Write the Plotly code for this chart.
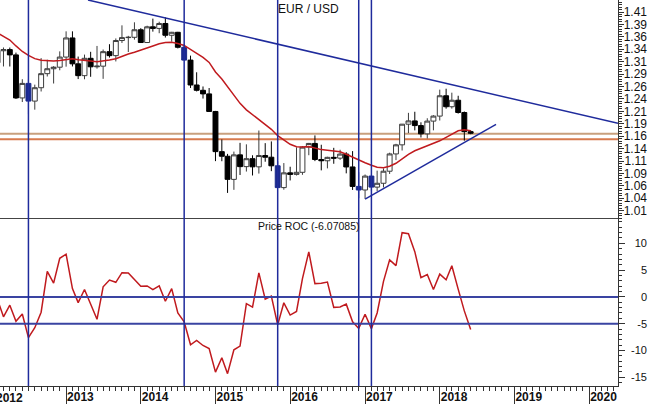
import plotly.graph_objects as go
import pandas as pd

# ---------------- data (monthly EUR/USD, Feb 2012 .. Jun 2018) ----------------
first_month = "2012-02-01"
opens = [1.3079, 1.3320, 1.3343, 1.3237, 1.2370, 1.2663, 1.2307, 1.2576, 1.2859, 1.2958, 1.2989,
         1.3193, 1.3578, 1.3057, 1.2819, 1.3168, 1.2997, 1.3010, 1.3302, 1.3222, 1.3526, 1.3585, 1.3591,
         1.3743, 1.3486, 1.3802, 1.3770, 1.3869, 1.3632, 1.3692, 1.3390, 1.3132, 1.2631, 1.2524, 1.2452,
         1.2098, 1.1289, 1.1196, 1.0731, 1.1224, 1.0987, 1.1147, 1.0983, 1.1211, 1.1177, 1.1004, 1.0565,
         1.0862, 1.0831, 1.0873, 1.1380, 1.1454, 1.1131, 1.1105, 1.1174, 1.1158, 1.1240, 1.0981, 1.0589,
         1.0517, 1.0797, 1.0575, 1.0652, 1.0895, 1.1243, 1.1426, 1.1842, 1.1908, 1.1814, 1.1647, 1.1904,
         1.2005, 1.2414, 1.2193, 1.2324, 1.2077, 1.1692]
highs = [1.3487, 1.3386, 1.3385, 1.3283, 1.2747, 1.2747, 1.2638, 1.3172, 1.3140, 1.3010, 1.3308,
         1.3711, 1.3711, 1.3203, 1.3243, 1.3299, 1.3417, 1.3345, 1.3452, 1.3568, 1.3832, 1.3620, 1.3893,
         1.3775, 1.3824, 1.3967, 1.3905, 1.3993, 1.3700, 1.3700, 1.3445, 1.3222, 1.2887, 1.2601, 1.2570,
         1.2109, 1.1534, 1.1244, 1.1290, 1.1466, 1.1436, 1.1216, 1.1714, 1.1460, 1.1495, 1.1095, 1.1059,
         1.0985, 1.1376, 1.1400, 1.1464, 1.1616, 1.1428, 1.1186, 1.1366, 1.1327, 1.1278, 1.1300, 1.0874,
         1.0829, 1.0829, 1.0906, 1.0951, 1.1268, 1.1446, 1.1846, 1.2070, 1.2092, 1.1880, 1.1961, 1.2023,
         1.2537, 1.2556, 1.2476, 1.2414, 1.2097, 1.1720]
lows = [1.3034, 1.3004, 1.3003, 1.2350, 1.2288, 1.2042, 1.2134, 1.2500, 1.2802, 1.2661, 1.2927,
        1.3000, 1.3004, 1.2750, 1.2746, 1.2796, 1.2960, 1.2755, 1.3183, 1.3105, 1.3477, 1.3295, 1.3544,
        1.3478, 1.3477, 1.3705, 1.3673, 1.3586, 1.3503, 1.3367, 1.3134, 1.2571, 1.2501, 1.2358, 1.2100,
        1.1098, 1.1096, 1.0458, 1.0520, 1.0819, 1.0888, 1.0809, 1.0848, 1.1086, 1.0896, 1.0562, 1.0523,
        1.0709, 1.0809, 1.0822, 1.1217, 1.1098, 1.0912, 1.0952, 1.1045, 1.1123, 1.0852, 1.0518, 1.0352,
        1.0340, 1.0494, 1.0494, 1.0569, 1.0839, 1.1119, 1.1312, 1.1662, 1.1717, 1.1574, 1.1554, 1.1718,
        1.1916, 1.2154, 1.2155, 1.2055, 1.1510, 1.1640]
closes = [1.3320, 1.3343, 1.3237, 1.2370, 1.2663, 1.2307, 1.2576, 1.2859, 1.2958, 1.2989, 1.3193,
          1.3578, 1.3057, 1.2819, 1.3168, 1.2997, 1.3010, 1.3302, 1.3222, 1.3526, 1.3585, 1.3591, 1.3743,
          1.3486, 1.3802, 1.3770, 1.3869, 1.3632, 1.3692, 1.3390, 1.3132, 1.2631, 1.2524, 1.2452, 1.2098,
          1.1289, 1.1196, 1.0731, 1.1224, 1.0987, 1.1147, 1.0983, 1.1211, 1.1177, 1.1004, 1.0565, 1.0862,
          1.0831, 1.0873, 1.1380, 1.1454, 1.1131, 1.1105, 1.1174, 1.1158, 1.1240, 1.0981, 1.0589, 1.0517,
          1.0797, 1.0575, 1.0652, 1.0895, 1.1243, 1.1426, 1.1842, 1.1908, 1.1814, 1.1647, 1.1904, 1.2005,
          1.2414, 1.2193, 1.2324, 1.2077, 1.1692, 1.1660]
moving_avg = [1.3678, 1.3608, 1.3537, 1.3417, 1.3306, 1.3226, 1.3161, 1.3129, 1.3115, 1.3115, 1.3125,
              1.3149, 1.3161, 1.3139, 1.3121, 1.3115, 1.3101, 1.3115, 1.3135, 1.3161, 1.3210, 1.3256, 1.3290,
              1.3330, 1.3368, 1.3417, 1.3461, 1.3487, 1.3489, 1.3467, 1.3427, 1.3346, 1.3272, 1.3185, 1.3085,
              1.2894, 1.2753, 1.2593, 1.2422, 1.2261, 1.2130, 1.2030, 1.1939, 1.1839, 1.1738, 1.1610, 1.1517,
              1.1437, 1.1387, 1.1380, 1.1390, 1.1356, 1.1330, 1.1316, 1.1296, 1.1286, 1.1236, 1.1175, 1.1115,
              1.1065, 1.1015, 1.0974, 1.0964, 1.0994, 1.1055, 1.1145, 1.1236, 1.1306, 1.1356, 1.1397, 1.1447,
              1.1507, 1.1578, 1.1648, 1.1708, 1.1728, 1.1708]
price_roc = [-0.50, -3.71, -1.55, -4.56, -3.18, -7.60, -5.75, -2.86, 4.75, 2.57, 7.20,
             7.97, 1.54, -1.07, 1.38, -1.49, -4.18, 1.88, 3.14, 2.72, 4.52, 4.47, 3.32,
             2.00, 2.04, 1.36, 2.05, -0.81, 1.53, -2.99, -4.63, -8.93, -8.13, -9.06, -9.65,
             -14.03, -11.36, -14.32, -9.86, -9.18, -1.26, -1.90, 4.47, -0.42, 0.15, -5.22, -1.10,
             -3.39, -2.72, 3.42, 8.41, 2.48, 2.53, 2.77, -1.95, -1.87, -1.35, -4.65, -5.88,
             -3.24, -5.92, -3.00, 2.89, 6.90, 5.83, 11.98, 11.79, 8.43, 3.59, 4.18, 1.38,
             4.25, 3.21, 5.81, 1.45, -2.61, -6.07]
roc_last_label = "Price ROC (-6.07085)"

signal_months = ["2012-07-01", "2014-08-01", "2015-11-01", "2016-12-01", "2017-02-01"]
support_levels = [1.1648, 1.1541]
roc_levels = [0, -5]
down_trend_dates = ["2013-04-18", "2020-05-21"]
down_trend_prices = [1.4342, 1.1860]
up_trend_dates = ["2017-01-01", "2018-10-03"]
up_trend_prices = [1.0335, 1.1839]

price_tick_vals = [1.01 + 0.025 * i for i in range(17)]
price_tick_text = ["1.01", "1.04", "1.06", "1.09", "1.11", "1.14", "1.16", "1.19", "1.21",
                   "1.24", "1.26", "1.29", "1.31", "1.34", "1.36", "1.39", "1.41"]
roc_tick_vals = [-15, -10, -5, 0, 5, 10]
roc_tick_text = ["-15", "-10", "-5", "0", "5", "10"]
year_tick_vals = ["2013-01-01", "2014-01-01", "2015-01-01", "2016-01-01",
                  "2017-01-01", "2018-01-01", "2019-01-01", "2020-01-01"]
year_tick_text = ["2013", "2014", "2015", "2016", "2017", "2018", "2019", "2020"]
x_range = ["2012-02-13", "2020-05-21"]
price_range = [0.9947, 1.4342]
roc_range = [-16.62, 14.66]

# ---------------- figure ----------------
months = pd.date_range(first_month, periods=len(closes), freq="MS")
month_str = [d.strftime("%Y-%m-%d") for d in months]
sig = set(signal_months)
norm_idx = [i for i, d in enumerate(month_str) if d not in sig]
sig_idx = [i for i, d in enumerate(month_str) if d in sig]

FONT = "Liberation Sans, Arial, sans-serif"
BLUE = "#1f2b9c"
RED = "#c01a1e"
AX = "#333333"

def pick(arr, idx):
    return [arr[i] for i in idx]

fig = go.Figure()

fig.add_trace(go.Candlestick(
    x=pick(month_str, norm_idx), open=pick(opens, norm_idx), high=pick(highs, norm_idx),
    low=pick(lows, norm_idx), close=pick(closes, norm_idx),
    increasing=dict(fillcolor="white", line=dict(color="#3c3c3c", width=1)),
    decreasing=dict(fillcolor="black", line=dict(color="black", width=1)),
    xaxis="x", yaxis="y", showlegend=False, hoverinfo="skip"))
fig.add_trace(go.Candlestick(
    x=pick(month_str, sig_idx), open=pick(opens, sig_idx), high=pick(highs, sig_idx),
    low=pick(lows, sig_idx), close=pick(closes, sig_idx),
    increasing=dict(fillcolor="#1b2a8c", line=dict(color="#1b2a8c", width=1)),
    decreasing=dict(fillcolor="#1b2a8c", line=dict(color="#1b2a8c", width=1)),
    xaxis="x", yaxis="y", showlegend=False, hoverinfo="skip"))

fig.add_trace(go.Scatter(x=month_str, y=moving_avg, mode="lines",
                         line=dict(color=RED, width=1.5), xaxis="x", yaxis="y",
                         showlegend=False, hoverinfo="skip"))
fig.add_trace(go.Scatter(x=down_trend_dates, y=down_trend_prices, mode="lines",
                         line=dict(color=BLUE, width=1.5), xaxis="x", yaxis="y",
                         showlegend=False, hoverinfo="skip"))
fig.add_trace(go.Scatter(x=up_trend_dates, y=up_trend_prices, mode="lines",
                         line=dict(color=BLUE, width=1.5), xaxis="x", yaxis="y",
                         showlegend=False, hoverinfo="skip"))
fig.add_trace(go.Scatter(x=month_str, y=price_roc, mode="lines",
                         line=dict(color=RED, width=1.5), xaxis="x2", yaxis="y2",
                         showlegend=False, hoverinfo="skip"))
# carriers for the label-only overlay axes
fig.add_trace(go.Scatter(x=[None], y=[None], xaxis="x", yaxis="y3", showlegend=False))
fig.add_trace(go.Scatter(x=[None], y=[None], xaxis="x2", yaxis="y4", showlegend=False))

XDOM = [0, 618 / 650]
SPLIT = (386 - 218.3) / 386

shapes = []
for lvl, col in zip(support_levels, ["#c9a07e", "#d77a4e"]):
    shapes.append(dict(type="line", xref="x domain", x0=0, x1=1, yref="y", y0=lvl, y1=lvl,
                       line=dict(color=col, width=2), layer="below"))
for lvl in roc_levels:
    shapes.append(dict(type="line", xref="x2 domain", x0=0, x1=1, yref="y2", y0=lvl, y1=lvl,
                       line=dict(color="#3a44a2", width=2)))
for d in signal_months:
    shapes.append(dict(type="line", xref="x2", x0=d, x1=d, yref="paper", y0=0, y1=1,
                       line=dict(color=BLUE, width=1.5)))

annotations = [
    dict(text="EUR / USD", xref="paper", yref="paper", x=308.3 / 650, y=1 - 9.5 / 386,
         xanchor="center", yanchor="middle", showarrow=False,
         font=dict(family=FONT, size=12, color="#111111")),
    dict(text=roc_last_label, xref="paper", yref="paper", x=308.8 / 650, y=1 - 226 / 386,
         xanchor="center", yanchor="middle", showarrow=False,
         font=dict(family=FONT, size=10.5, color="#111111")),
    dict(text="2012", xref="paper", yref="paper", x=-6.5 / 650, y=-12.5 / 386,
         xanchor="left", yanchor="middle", showarrow=False,
         font=dict(family=FONT, size=12, color="#111111", weight="bold")),
]

fig.update_layout(
    width=650, height=405,
    margin=dict(l=0, r=0, t=0, b=19, autoexpand=False),
    paper_bgcolor="white", plot_bgcolor="white",
    showlegend=False, hovermode=False,
    boxgap=0.1, boxgroupgap=0.05,
    font=dict(family=FONT, size=12, color="#111111"),
    xaxis=dict(domain=XDOM, anchor="y", type="date", range=x_range, matches="x2",
               showticklabels=False, ticks="", showgrid=False, zeroline=False,
               showline=True, linecolor="#444444", linewidth=1,
               rangeslider=dict(visible=False)),
    xaxis2=dict(domain=XDOM, anchor="y2", type="date", range=x_range,
                tickmode="array", tickvals=year_tick_vals, ticktext=year_tick_text,
                ticks="outside", ticklen=17, tickcolor=AX, tickwidth=1,
                ticklabelposition="outside right",
                tickfont=dict(family=FONT, size=12, color="#111111", weight="bold"),
                minor=dict(dtick="M1", tick0="2012-01-01", ticks="outside", ticklen=4,
                           tickcolor=AX, tickwidth=1),
                showline=True, linecolor=AX, linewidth=1, showgrid=False, zeroline=False),
    yaxis=dict(domain=[SPLIT, 1], anchor="x", side="right", range=price_range,
               tickmode="array", tickvals=price_tick_vals, showticklabels=False,
               ticks="outside", ticklen=5, tickcolor=AX,
               minor=dict(dtick=0.005, tick0=1.01, ticks="outside", ticklen=3, tickcolor=AX),
               showline=True, linecolor=AX, linewidth=1, showgrid=False, zeroline=False),
    yaxis3=dict(overlaying="y", anchor="free", position=1.0, side="right",
                range=price_range, tickmode="array", tickvals=price_tick_vals,
                ticktext=price_tick_text, ticklabelposition="inside", ticks="",
                showline=False, showgrid=False, zeroline=False,
                tickfont=dict(family=FONT, size=12, color="#111111")),
    yaxis2=dict(domain=[0, SPLIT], anchor="x2", side="right", range=roc_range,
                tickmode="array", tickvals=roc_tick_vals, showticklabels=False,
                ticks="outside", ticklen=6, tickcolor=AX,
                minor=dict(dtick=1, tick0=0, ticks="outside", ticklen=3, tickcolor=AX),
                showline=True, linecolor=AX, linewidth=1, showgrid=False, zeroline=False),
    yaxis4=dict(overlaying="y2", anchor="free", position=1.0, side="right",
                range=roc_range, tickmode="array", tickvals=roc_tick_vals,
                ticktext=roc_tick_text, ticklabelposition="inside", ticks="",
                showline=False, showgrid=False, zeroline=False,
                tickfont=dict(family=FONT, size=11, color="#111111")),
    shapes=shapes,
    annotations=annotations,
)

fig.write_html("out.html", config={"displayModeBar": False, "staticPlot": True},
               post_script="document.body.style.margin='0';document.body.style.overflow='hidden';")
